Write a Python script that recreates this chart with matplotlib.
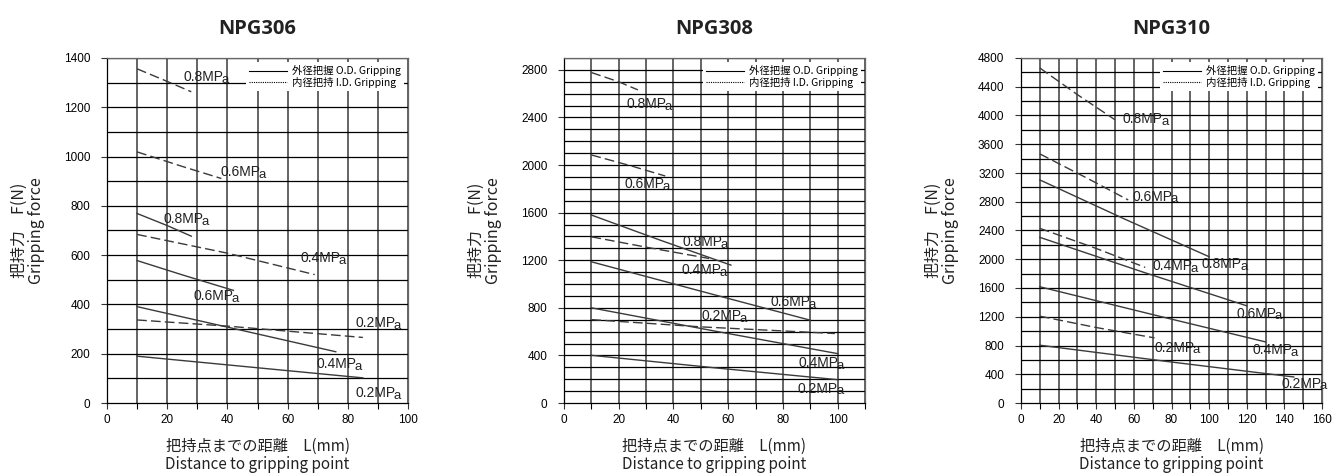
import matplotlib.pyplot as plt
from matplotlib.lines import Line2D
from matplotlib.ticker import MultipleLocator

plt.rcParams['font.family'] = ['Liberation Sans', 'DejaVu Sans']
CJK = ['Noto Sans CJK JP', 'DejaVu Sans']

titles = ['NPG306', 'NPG308', 'NPG310']
pressures = ['0.2', '0.4', '0.6', '0.8']

# 外径把握 (solid) / 内径把持 (dashed): pressure -> (L mm, F N)
npg306_od = {'0.8': ([10, 20, 28], [769, 720, 677]),
             '0.6': ([10, 25, 42], [578, 520, 457]),
             '0.4': ([10, 40, 76], [391, 308, 208]),
             '0.2': ([10, 50, 85], [190, 143, 102])}
npg306_id = {'0.8': ([10, 20, 28], [1356, 1305, 1263]),
             '0.6': ([10, 25, 38], [1019, 960, 911]),
             '0.4': ([10, 40, 69], [684, 608, 521]),
             '0.2': ([10, 40, 85], [337, 312, 266])}

npg308_od = {'0.8': ([10, 35, 61], [1580, 1370, 1159]),
             '0.6': ([10, 50, 90], [1187, 940, 696]),
             '0.4': ([10, 55, 100], [800, 605, 415]),
             '0.2': ([10, 55, 100], [401, 296, 196])}
npg308_id = {'0.8': ([10, 20, 27], [2778, 2700, 2632]),
             '0.6': ([10, 25, 37], [2085, 1990, 1908]),
             '0.4': ([10, 30, 53], [1397, 1310, 1215]),
             '0.2': ([10, 50, 99], [701, 640, 584])}

npg310_od = {'0.8': ([10, 55, 100], [3104, 2560, 2035]),
             '0.6': ([10, 65, 120], [2305, 1820, 1352]),
             '0.4': ([10, 70, 130], [1617, 1230, 850]),
             '0.2': ([10, 80, 145], [804, 570, 362])}
npg310_id = {'0.8': ([10, 30, 50], [4661, 4290, 3940]),
             '0.6': ([10, 35, 57], [3466, 3130, 2825]),
             '0.4': ([10, 40, 66], [2430, 2150, 1887]),
             '0.2': ([10, 40, 71], [1208, 1050, 906])}

# label positions (x, y, text)
npg306_labels = [(25.5, 1322, '0.8'), (37.7, 938, '0.6'), (18.8, 745, '0.8'), (64.3, 588, '0.4'),
                 (28.6, 435, '0.6'), (82.6, 323, '0.2'), (69.6, 158, '0.4'), (82.6, 41, '0.2')]
npg308_labels = [(22.8, 2514, '0.8'), (22.2, 1840, '0.6'), (43.3, 1355, '0.8'), (42.9, 1117, '0.4'),
                 (75.5, 850, '0.6'), (50.2, 730, '0.2'), (85.6, 337, '0.4'), (85.4, 121, '0.2')]
npg310_labels = [(54.2, 3954, '0.8'), (59.4, 2872, '0.6'), (70.0, 1905, '0.4'), (96.2, 1933, '0.8'),
                 (114.5, 1245, '0.6'), (70.9, 771, '0.2'), (123.0, 734, '0.4'), (138.4, 270, '0.2')]

xlims = [(0, 100), (0, 110), (0, 160)]
ylims = [(0, 1400), (0, 2900), (0, 4800)]
ytick_step = [200, 400, 400]
hgrid_step = [100, 100, 200]

ods = [npg306_od, npg308_od, npg310_od]
ids = [npg306_id, npg308_id, npg310_id]
labels = [npg306_labels, npg308_labels, npg310_labels]

fig = plt.figure(figsize=(13.32, 4.73), dpi=100)
W, H = 1332, 473
lefts = [107, 564, 1021]
aw, top, bot = 301, 58, 403

for i in range(3):
    ax = fig.add_axes([lefts[i] / W, 1 - bot / H, aw / W, (bot - top) / H])
    ax.set_xlim(*xlims[i])
    ax.set_ylim(*ylims[i])

    # grid
    for gx in range(10, xlims[i][1] + 1, 10):
        ax.axvline(gx, color='#4a4a4a', lw=1.2, zorder=1)
    for gy in range(hgrid_step[i], ylims[i][1] + 1, hgrid_step[i]):
        ax.axhline(gy, color='black', lw=0.9, zorder=1)

    for p in pressures:
        x, y = ods[i][p]
        ax.plot(x, y, color='#3a3a3a', lw=1.0, zorder=3)
        x, y = ids[i][p]
        ax.plot(x, y, color='#3a3a3a', lw=1.0, dashes=(7, 3), zorder=3)

    for lx, ly, t in labels[i]:
        txt = ax.text(lx, ly, t + 'MP', fontsize=10, ha='left', va='center',
                      color='#222222', zorder=4)
        ax.annotate('a', xy=(1, 0), xycoords=txt, xytext=(-1.3, -1.3),
                    textcoords='offset points', ha='left', va='bottom',
                    fontsize=9.5, color='#222222', zorder=4)

    ax.xaxis.set_major_locator(MultipleLocator(20))
    ax.xaxis.set_minor_locator(MultipleLocator(10))
    ax.yaxis.set_major_locator(MultipleLocator(ytick_step[i]))
    ax.tick_params(axis='both', which='major', labelsize=8.5, length=4, width=0.8, color='#333333')
    ax.tick_params(axis='x', which='minor', length=4, width=0.8)
    ax.tick_params(axis='y', pad=8)
    ax.tick_params(axis='x', pad=4)
    for s in ax.spines.values():
        s.set_color('#666666')
        s.set_linewidth(0.9)
    ax.spines['left'].set_color('black')
    ax.spines['bottom'].set_color('black')

    ax.set_title(titles[i], fontsize=14.5, fontweight='bold', family=['Open Sans', 'DejaVu Sans'],
                 pad=17, color='#222222')
    ax.set_ylabel('把持力　F(N)\nGripping force', family=CJK, fontsize=11.5,
                  linespacing=1.05, color='#222222')
    ax.yaxis.set_label_coords(-62 / aw, 0.5)
    ax.set_xlabel('把持点までの距離　L(mm)\nDistance to gripping point', family=CJK,
                  fontsize=11, linespacing=1.1, color='#222222')
    ax.xaxis.set_label_coords(0.5, -35 / (bot - top))

    handles = [Line2D([], [], color='black', lw=0.8),
               Line2D([], [], color='black', lw=0.8, ls=(0, (1, 1)))]
    leg = ax.legend(handles, ['外径把握 O.D. Gripping', '内径把持 I.D. Gripping'],
                    loc='upper right', prop={'family': CJK, 'size': 7.5},
                    frameon=True, framealpha=1, facecolor='white', edgecolor='none',
                    handlelength=3.6, handletextpad=0.5, borderpad=0.3, labelspacing=0.05,
                    borderaxespad=0.4, fancybox=False)
    leg.set_zorder(5)

fig.savefig('out.png', dpi=100)
